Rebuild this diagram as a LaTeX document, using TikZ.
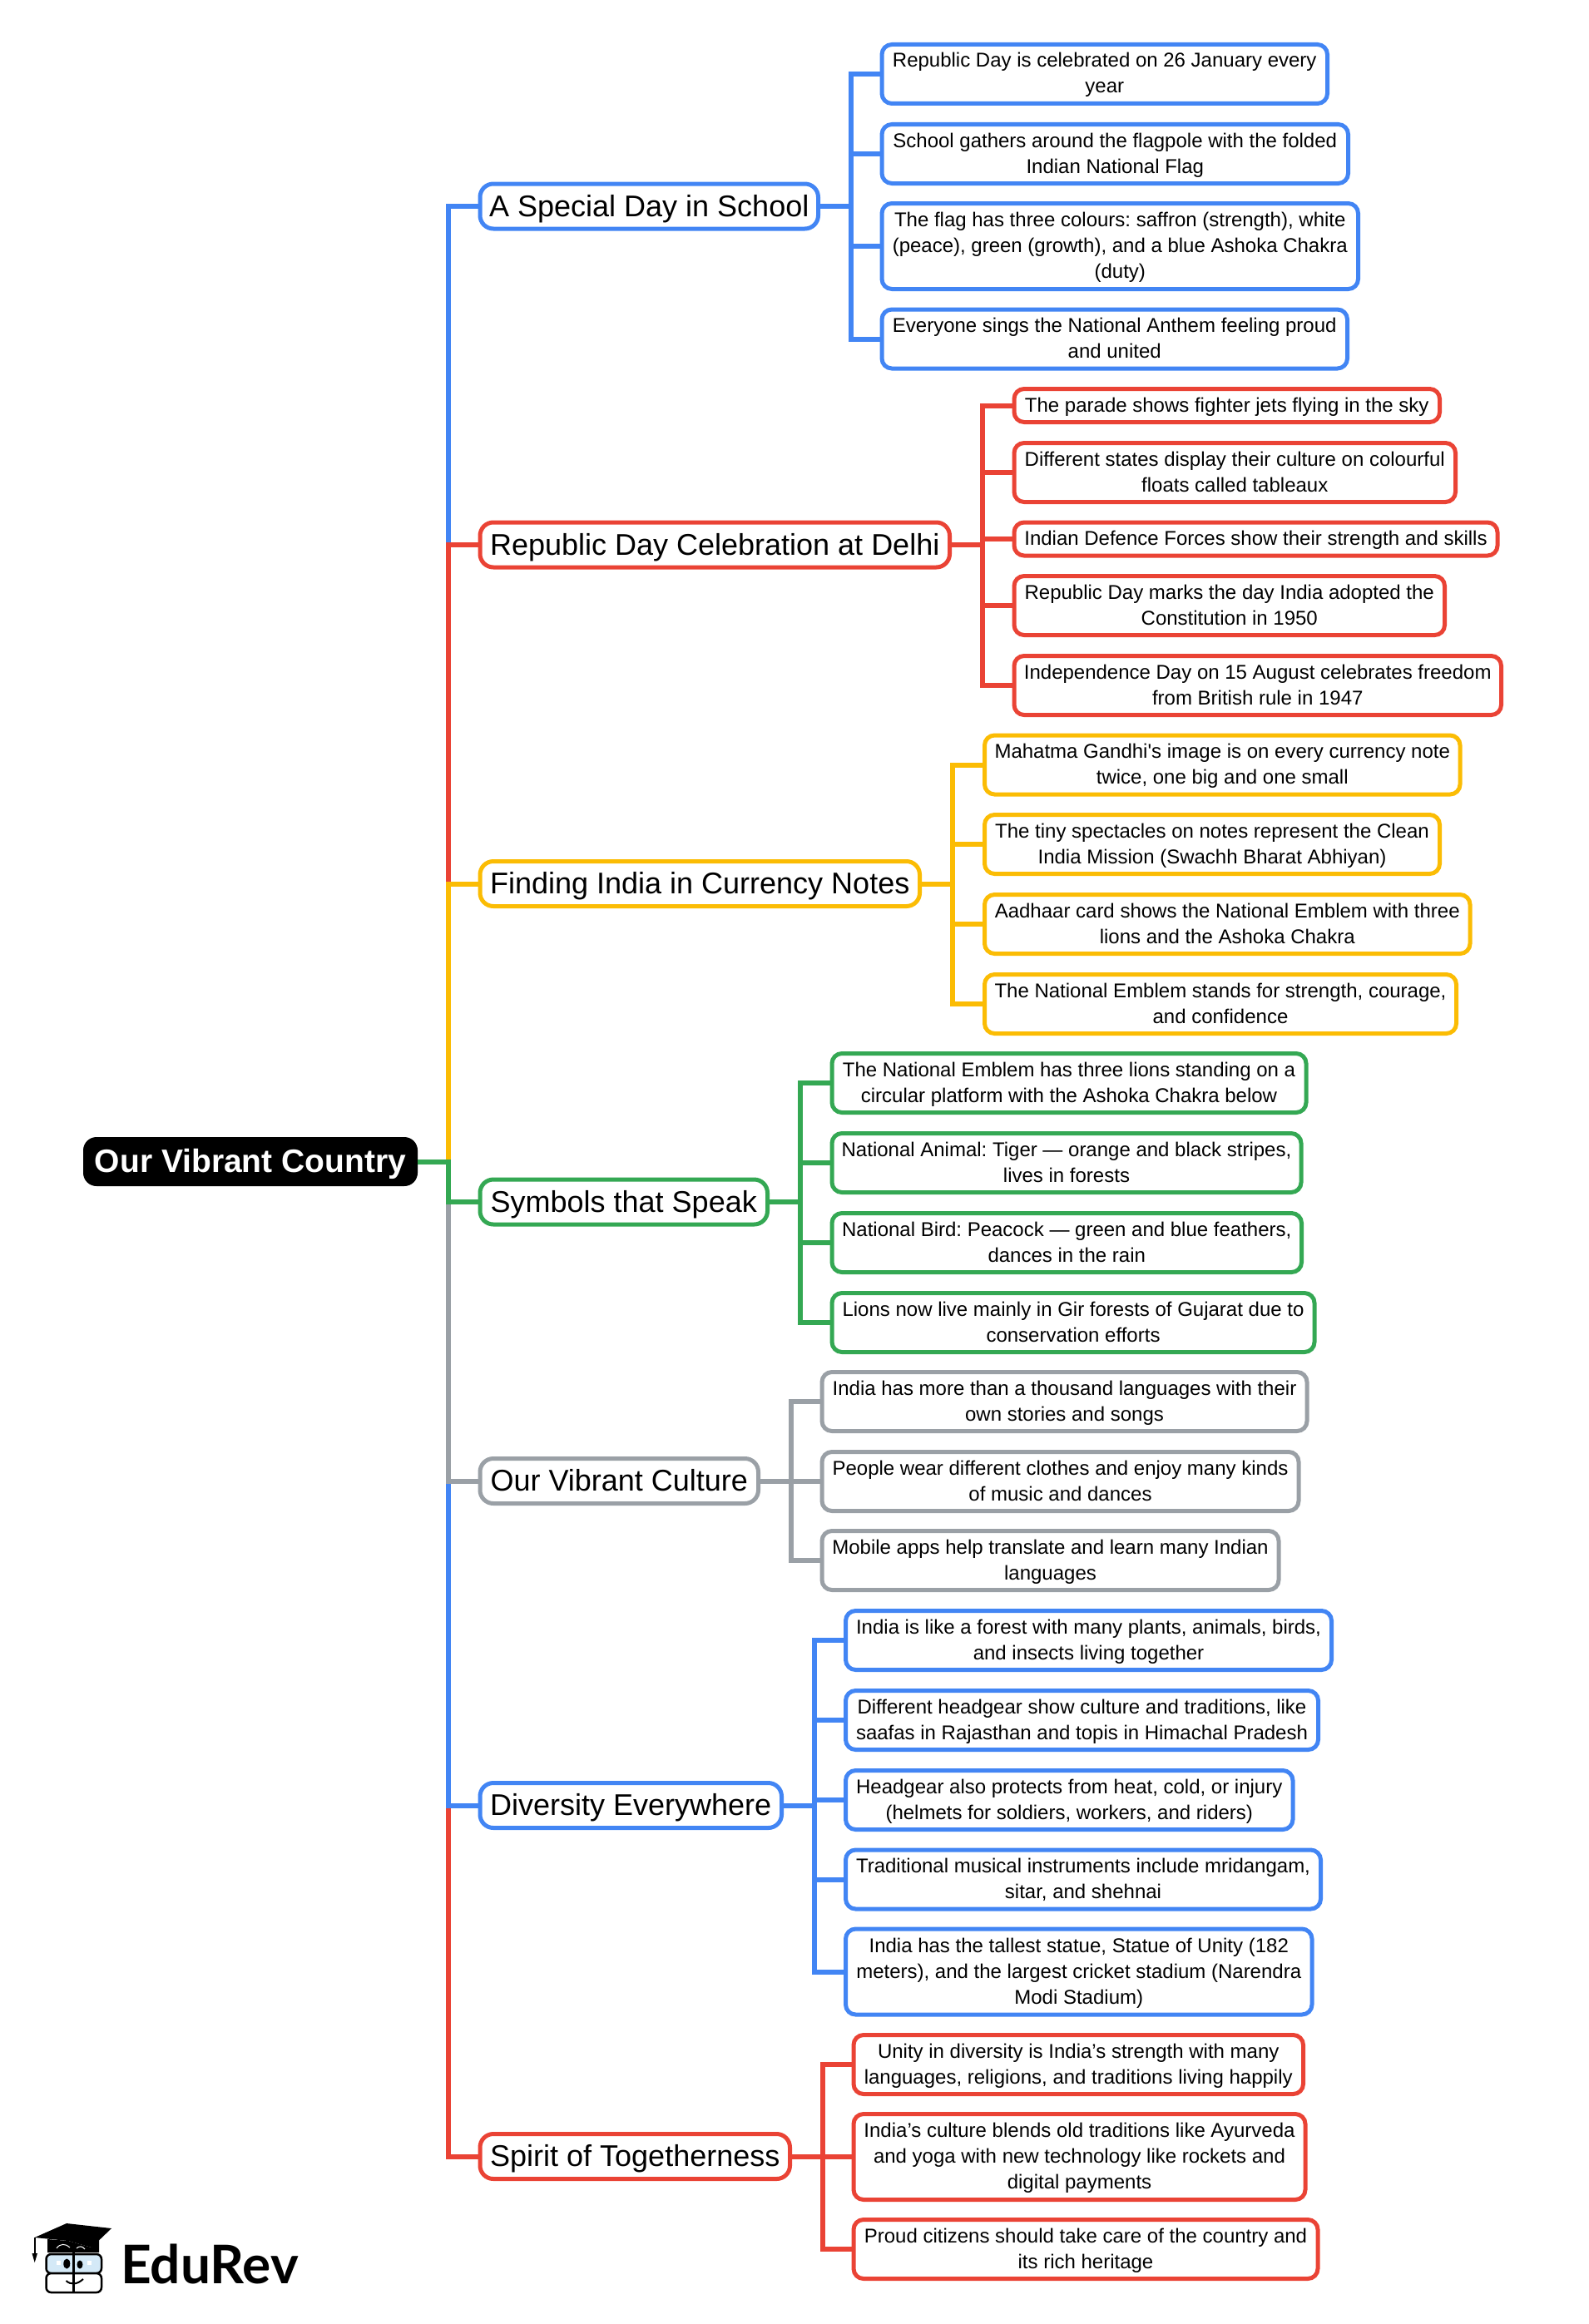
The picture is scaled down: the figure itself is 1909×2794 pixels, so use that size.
\documentclass[tikz,border=0pt]{standalone}
\usepackage{fontspec}
\newfontfamily\mapfont{Liberation Sans}
\newfontfamily\logofont{Lato}
\definecolor{BlueLine}{HTML}{4285F4}
\definecolor{RedLine}{HTML}{EA4335}
\definecolor{GoldLine}{HTML}{FBBC04}
\definecolor{GreenLine}{HTML}{34A853}
\definecolor{GreyLine}{HTML}{9AA0A6}
\definecolor{GlassBlue}{HTML}{D4E9F7}
\newcommand{\LinkNode}[4][39]% #1=run to the bus (optional), #2=colour, #3-#4 parent and child
{\draw[link,#2] (#3.east) -- ++(#1,0) |- (#4.west);
}
\tikzset{
  link/.style={line width=6},
  rootbox/.style={anchor=west, fill=black, text=white, rounded corners=16, inner sep=0, outer sep=0,
    minimum height=59, text height=36, text depth=10, font=\mapfont\bfseries\fontsize{39}{44}\selectfont},
  branch/.style={anchor=west, draw=#1, fill=white, line width=5, rounded corners=16, inner sep=0, outer sep=0,
    minimum height=54, text height=34, text depth=10, font=\mapfont\fontsize{36}{42}\selectfont\frenchspacing},
  leafbase/.style={anchor=west, draw=#1, fill=white, line width=5, rounded corners=12, inner sep=0, outer sep=0,
    align=center, text depth=8, font=\mapfont\fontsize{24}{31}\selectfont\frenchspacing},
  leaf/.style={leafbase=#1, minimum height=71, text height=54},
  tallleaf/.style={leafbase=#1, minimum height=103, text height=85},
  oneleaf/.style={leafbase=#1, minimum height=40, text height=23}
}
\begin{document}
\begin{tikzpicture}[x=1pt,y=-1pt]
  \useasboundingbox (0,0) rectangle (1909,2794);
  % root and branches
  \node[rootbox, minimum width=402] (root) at (100,1396.5) {Our Vibrant Country};
  \node[branch=BlueLine,  minimum width=406.5] (school)    at (577,248)    {A Special Day in School};
  \node[branch=RedLine,   minimum width=564.5] (delhi)     at (577,655)    {Republic Day Celebration at Delhi};
  \node[branch=GoldLine,  minimum width=528.5] (currency)  at (577,1062.5) {Finding India in Currency Notes};
  \node[branch=GreenLine, minimum width=345.5] (symbols)   at (577,1445)   {Symbols that Speak};
  \node[branch=GreyLine,  minimum width=334.5] (culture)   at (577,1780.5) {Our Vibrant Culture};
  \node[branch=BlueLine,  minimum width=362.5] (diversity) at (577,2170.5) {Diversity Everywhere};
  \node[branch=RedLine,   minimum width=372.5] (spirit)    at (577,2592.5) {Spirit of Togetherness};
  % leaves of the first branch
  \node[leaf=BlueLine, minimum width=535.5] (school1) at (1060,89) {Republic Day is celebrated on 26 January every\\year};
  \node[leaf=BlueLine, minimum width=560.5] (school2) at (1060,185) {School gathers around the flagpole with the folded\\Indian National Flag};
  \node[tallleaf=BlueLine, minimum width=572.5] (school3) at (1060,296) {The flag has three colours: saffron (strength), white\\(peace), green (growth), and a blue Ashoka Chakra\\(duty)};
  \node[leaf=BlueLine, minimum width=559.5] (school4) at (1060,407.5) {Everyone sings the National Anthem feeling proud\\and united};
  % leaves of the second branch
  \node[oneleaf=RedLine, minimum width=511.5] (delhi1) at (1219,487.5) {The parade shows fighter jets flying in the sky};
  \node[leaf=RedLine, minimum width=530.5] (delhi2) at (1219,568) {Different states display their culture on colourful\\floats called tableaux};
  \node[oneleaf=RedLine, minimum width=581] (delhi3) at (1219,648) {Indian Defence Forces show their strength and skills};
  \node[leaf=RedLine, minimum width=517.5] (delhi4) at (1219,728) {Republic Day marks the day India adopted the\\Constitution in 1950};
  \node[leaf=RedLine, minimum width=585.5] (delhi5) at (1219,824) {Independence Day on 15 August celebrates freedom\\from British rule in 1947};
  % leaves of the third branch
  \node[leaf=GoldLine, minimum width=571.5] (currency1) at (1183.5,919.5) {Mahatma Gandhi's image is on every currency note\\twice, one big and one small};
  \node[leaf=GoldLine, minimum width=547] (currency2) at (1183.5,1015) {The tiny spectacles on notes represent the Clean\\India Mission (Swachh Bharat Abhiyan)};
  \node[leaf=GoldLine, minimum width=583.5] (currency3) at (1183.5,1111) {Aadhaar card shows the National Emblem with three\\lions and the Ashoka Chakra};
  \node[leaf=GoldLine, minimum width=567] (currency4) at (1183.5,1207) {The National Emblem stands for strength, courage,\\and confidence};
  % leaves of the fourth branch
  \node[leaf=GreenLine, minimum width=570] (symbols1) at (1000,1302) {The National Emblem has three lions standing on a\\circular platform with the Ashoka Chakra below};
  \node[leaf=GreenLine, minimum width=564] (symbols2) at (1000,1398) {National Animal: Tiger — orange and black stripes,\\lives in forests};
  \node[leaf=GreenLine, minimum width=564.5] (symbols3) at (1000,1494) {National Bird: Peacock — green and blue feathers,\\dances in the rain};
  \node[leaf=GreenLine, minimum width=580] (symbols4) at (1000,1590) {Lions now live mainly in Gir forests of Gujarat due to\\conservation efforts};
  % leaves of the fifth branch
  \node[leaf=GreyLine, minimum width=583] (culture1) at (988,1685) {India has more than a thousand languages with their\\own stories and songs};
  \node[leaf=GreyLine, minimum width=573] (culture2) at (988,1781) {People wear different clothes and enjoy many kinds\\of music and dances};
  \node[leaf=GreyLine, minimum width=549] (culture3) at (988,1876) {Mobile apps help translate and learn many Indian\\languages};
  % leaves of the sixth branch
  \node[leaf=BlueLine, minimum width=584] (diversity1) at (1016.5,1972) {India is like a forest with many plants, animals, birds,\\and insects living together};
  \node[leaf=BlueLine, minimum width=568] (diversity2) at (1016.5,2068) {Different headgear show culture and traditions, like\\saafas in Rajasthan and topis in Himachal Pradesh};
  \node[leaf=BlueLine, minimum width=537.5] (diversity3) at (1016.5,2164) {Headgear also protects from heat, cold, or injury\\(helmets for soldiers, workers, and riders)};
  \node[leaf=BlueLine, minimum width=571] (diversity4) at (1016.5,2259.5) {Traditional musical instruments include mridangam,\\sitar, and shehnai};
  \node[tallleaf=BlueLine, minimum width=560.5] (diversity5) at (1016.5,2370.5) {India has the tallest statue, Statue of Unity (182\\meters), and the largest cricket stadium (Narendra\\Modi Stadium)};
  % leaves of the seventh branch
  \node[leaf=RedLine, minimum width=540.5] (spirit1) at (1026,2482) {Unity in diversity is India’s strength with many\\languages, religions, and traditions living happily};
  \node[tallleaf=RedLine, minimum width=543] (spirit2) at (1026,2593) {India’s culture blends old traditions like Ayurveda\\and yoga with new technology like rockets and\\digital payments};
  \node[leaf=RedLine, minimum width=558] (spirit3) at (1026,2704) {Proud citizens should take care of the country and\\its rich heritage};
  % links from the root, the nearest ones last
  \LinkNode[37]{BlueLine}{root}{school}
  \LinkNode[37]{RedLine}{root}{spirit}
  \LinkNode[37]{RedLine}{root}{delhi}
  \LinkNode[37]{BlueLine}{root}{diversity}
  \LinkNode[37]{GoldLine}{root}{currency}
  \LinkNode[37]{GreyLine}{root}{culture}
  \LinkNode[37]{GreenLine}{root}{symbols}
  % links to the leaves
  \LinkNode{BlueLine}{school}{school1}
  \LinkNode{BlueLine}{school}{school2}
  \LinkNode{BlueLine}{school}{school3}
  \LinkNode{BlueLine}{school}{school4}
  \LinkNode{RedLine}{delhi}{delhi1}
  \LinkNode{RedLine}{delhi}{delhi2}
  \LinkNode{RedLine}{delhi}{delhi3}
  \LinkNode{RedLine}{delhi}{delhi4}
  \LinkNode{RedLine}{delhi}{delhi5}
  \LinkNode{GoldLine}{currency}{currency1}
  \LinkNode{GoldLine}{currency}{currency2}
  \LinkNode{GoldLine}{currency}{currency3}
  \LinkNode{GoldLine}{currency}{currency4}
  \LinkNode{GreenLine}{symbols}{symbols1}
  \LinkNode{GreenLine}{symbols}{symbols2}
  \LinkNode{GreenLine}{symbols}{symbols3}
  \LinkNode{GreenLine}{symbols}{symbols4}
  \LinkNode{GreyLine}{culture}{culture1}
  \LinkNode{GreyLine}{culture}{culture2}
  \LinkNode{GreyLine}{culture}{culture3}
  \LinkNode{BlueLine}{diversity}{diversity1}
  \LinkNode{BlueLine}{diversity}{diversity2}
  \LinkNode{BlueLine}{diversity}{diversity3}
  \LinkNode{BlueLine}{diversity}{diversity4}
  \LinkNode{BlueLine}{diversity}{diversity5}
  \LinkNode{RedLine}{spirit}{spirit1}
  \LinkNode{RedLine}{spirit}{spirit2}
  \LinkNode{RedLine}{spirit}{spirit3}
  % logo
  \draw[line width=2] (41.7,2690) -- (41.7,2710);
  \fill (38.5,2709) -- (45,2709) -- (41.7,2720) -- cycle;
  \fill (41.7,2690) -- (80,2673) -- (134,2679) -- (110,2702) -- (82,2694) -- cycle;
  \fill (57,2692) -- (57,2708) -- (119,2708) -- (119,2686) -- (110,2702) -- (82,2694) -- cycle;
  \draw[white, line width=1] (68,2703) .. controls (72,2697) and (79,2697) .. (84,2702);
  \draw[white, line width=1] (92,2703) .. controls (95,2700) and (99,2700) .. (102,2704);
  \draw[line width=2.5, fill=GlassBlue, rounded corners=6] (55.5,2710) rectangle (122,2733);
  \draw[line width=2.5, fill=white, rounded corners=6] (55.5,2733) rectangle (122,2756);
  \draw[line width=3] (88.5,2707) -- (88.5,2757);
  \fill (80.3,2721.5) ellipse (4 and 6);
  \fill (96,2722.5) ellipse (3.5 and 5);
  \fill[white] (68,2718) rectangle (73,2723);
  \fill[white] (104.5,2718) rectangle (109.5,2723);
  \draw[line width=2] (79.5,2742) .. controls (85,2747) and (92,2747) .. (100,2740);
  \node[anchor=base west, inner sep=0, font=\logofont\bfseries\fontsize{64}{70}\selectfont] (logotext) at (145,2745) {EduRev};
\end{tikzpicture}
\end{document}
